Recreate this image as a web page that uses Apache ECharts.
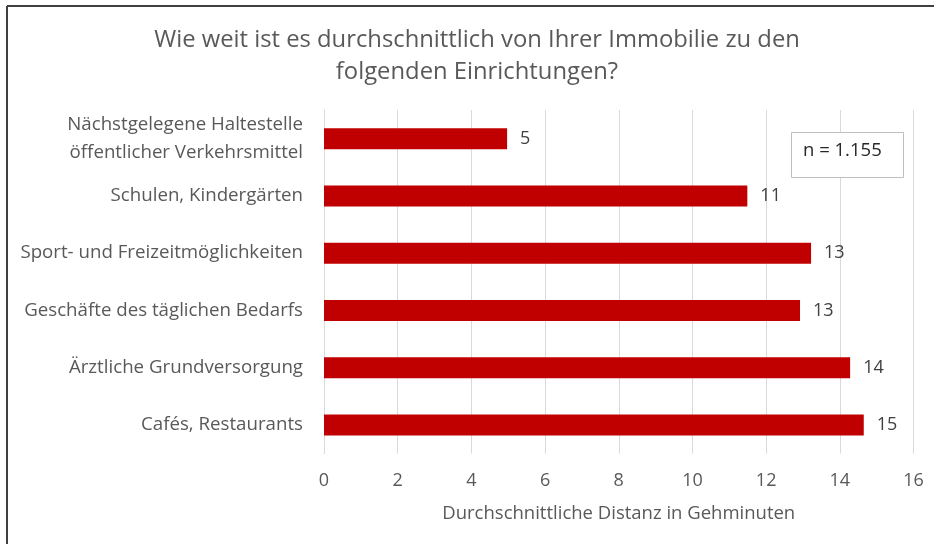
<!DOCTYPE html>
<html>
<head>
<meta charset="utf-8">
<script src="https://cdn.jsdelivr.net/npm/echarts@6/dist/echarts.min.js"></script>
<style>html,body{margin:0;padding:0;background:#fff}#c{width:934px;height:544px}</style>
</head>
<body>
<div id="c"></div>
<script>
const categories = [
  "Nächstgelegene Haltestelle\nöffentlicher Verkehrsmittel",
  "Schulen, Kindergärten",
  "Sport- und Freizeitmöglichkeiten",
  "Geschäfte des täglichen Bedarfs",
  "Ärztliche Grundversorgung",
  "Cafés, Restaurants"
];
const values = [4.97, 11.49, 13.22, 12.92, 14.28, 14.65];
const xTicks = [0, 2, 4, 6, 8, 10, 12, 14, 16];
const titleLines = ["Wie weit ist es durchschnittlich von Ihrer Immobilie zu den", "folgenden Einrichtungen?"];
const xAxisName = "Durchschnittliche Distanz in Gehminuten";
const noteText = "n = 1.155";

const FONT = "Open Sans";
const chart = echarts.init(document.getElementById('c'), null, {renderer: 'canvas'});
chart.setOption({
  animation: false,
  backgroundColor: '#fff',
  grid: {left: 324, right: 20.5, top: 110, bottom: 90.4, containLabel: false},
  xAxis: {
    type: 'value', min: xTicks[0], max: xTicks[xTicks.length - 1], interval: 2,
    name: xAxisName, nameLocation: 'middle', nameGap: 51,
    nameTextStyle: {color: '#595959', fontSize: 18.5, fontFamily: FONT},
    axisLine: {show: false}, axisTick: {show: false},
    axisLabel: {color: '#595959', fontSize: 18, fontFamily: FONT, margin: 18},
    splitLine: {show: true, lineStyle: {color: '#d9d9d9', width: 1}}
  },
  yAxis: {
    type: 'category', data: categories, inverse: true,
    axisLine: {show: true, lineStyle: {color: '#d9d9d9', width: 1}},
    axisTick: {show: false},
    axisLabel: {color: '#595959', fontSize: 18.7, fontFamily: FONT, margin: 21, lineHeight: 28.5, align: 'right'}
  },
  series: [{
    type: 'bar', data: values, barWidth: 21,
    itemStyle: {color: '#c00000'},
    label: {show: true, position: 'right', distance: 13, color: '#404040', fontSize: 18, fontFamily: FONT,
      formatter: p => Math.round(p.value)}
  }],
  graphic: [
    {type: 'line', shape: {x1: 7, y1: 6, x2: 934, y2: 6}, style: {stroke: '#404040', lineWidth: 2}},
    {type: 'line', shape: {x1: 7, y1: 6, x2: 7, y2: 544}, style: {stroke: '#404040', lineWidth: 2}},
    {type: 'text', x: 477, y: 40, style: {text: titleLines[0], fill: '#595959', fontSize: 23.8, fontFamily: FONT, textAlign: 'center', textVerticalAlign: 'middle'}},
    {type: 'text', x: 477, y: 72, style: {text: titleLines[1], fill: '#595959', fontSize: 23.8, fontFamily: FONT, textAlign: 'center', textVerticalAlign: 'middle'}},
    {type: 'rect', shape: {x: 791.5, y: 132.5, width: 112, height: 45}, style: {fill: '#fff', stroke: '#bfbfbf', lineWidth: 1}, z: 10},
    {type: 'text', x: 803, y: 151, style: {text: noteText, fill: '#262626', fontSize: 18.5, fontFamily: FONT, textVerticalAlign: 'middle'}, z: 11}
  ]
});
</script>
</body>
</html>
